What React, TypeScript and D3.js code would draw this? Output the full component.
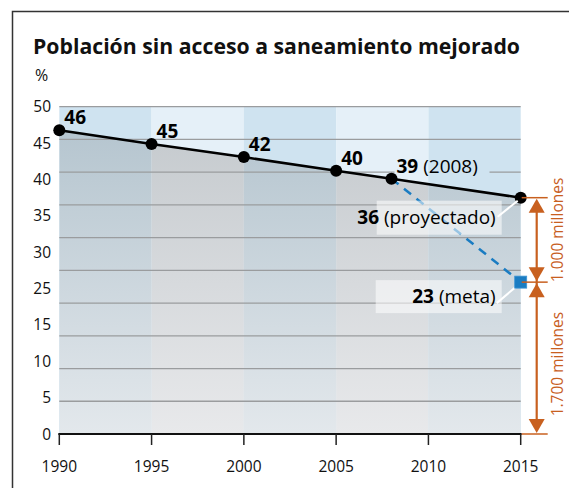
import React from 'react';
import * as d3 from 'd3';

// data
const years = [1990, 1995, 2000, 2005, 2008, 2015];
const poblacion = [46.4, 44.3, 42.3, 40.2, 39.0, 36.1];
const pointLabels = ['46', '45', '42', '40', '39'];
const metaYear = 2015;
const metaValue = 23.2;
const xTicks = [1990, 1995, 2000, 2005, 2010, 2015];
const yTickLabels = ['50', '45', '40', '35', '30', '25', '15', '10', '5', '0'];
const gridValues = [5, 10, 15, 20, 25, 30, 35, 40, 45, 50];
const bandStarts = [1990, 1995, 2000, 2005, 2010];

const W = 569;
const H = 488;
const FONT = '"Open Sans", "Noto Sans", sans-serif';
const ORANGE = '#c8601f';
const BLUE = '#1a7cc2';

const App = () => {
  const x = d3.scaleLinear().domain([1990, 2015]).range([59.3, 520.7]);
  const y = d3.scaleLinear().domain([0, 50]).range([434, 106.7]);
  const yLab = d3.scalePoint().domain(yTickLabels).range([y(50), y(0)]);

  const pts = years.map((yr, i) => ({ yr, v: poblacion[i] }));
  const line = d3.line<any>().x(d => x(d.yr)).y(d => y(d.v));
  const area = d3.area<any>().x(d => x(d.yr)).y0(y(0)).y1(d => y(d.v));

  const last = pts[pts.length - 1];
  const p2008 = pts[4];

  // boxes for the projected / goal annotations
  const boxR = x(2015) - 19;
  const projTop = y(last.v) + 3;
  const metaTop = y(metaValue) - 2;

  const oX = x(2015) + 16;
  const arrow = (yy: number, up: boolean) => {
    const h = 14;
    const w = 8;
    const base = up ? yy + h : yy - h;
    return `M${oX},${yy}L${oX - w},${base}L${oX + w},${base}Z`;
  };
  const yTop = y(last.v);
  const yMid = y(metaValue);
  const yBot = y(0);

  return (
    <svg width={W} height={H} style={{ position: 'absolute', left: 0, top: 0 }} fontFamily={FONT}>
      <defs>
        <linearGradient id="gDark" gradientUnits="userSpaceOnUse" x1={0} y1={y(47)} x2={0} y2={y(0)}>
          <stop offset="0%" stopColor="#b5c5cf" />
          <stop offset="100%" stopColor="#e3e8ec" />
        </linearGradient>
        <linearGradient id="gLight" gradientUnits="userSpaceOnUse" x1={0} y1={y(47)} x2={0} y2={y(0)}>
          <stop offset="0%" stopColor="#c5cace" />
          <stop offset="100%" stopColor="#e8e9eb" />
        </linearGradient>
        <clipPath id="areaClip">
          <path d={area(pts) || ''} />
        </clipPath>
        <clipPath id="lab2008">
          <rect x={x(2008) + 3} y={y(40) - 10} width={95} height={20} />
        </clipPath>
      </defs>

      <rect width={W} height={H} fill="#fff" />
      <path d={`M12.5,${H}V11.5H${W}`} fill="none" stroke="#333" strokeWidth={1.5} />

      <text x={33} y={54} fontSize={21} fontWeight={700} fill="#111" textLength={487} lengthAdjust="spacingAndGlyphs">
        Población sin acceso a saneamiento mejorado
      </text>
      <text x={35} y={81} fontSize={16} fill="#111">%</text>

      {/* background bands */}
      {bandStarts.map((b, i) => (
        <rect key={'b' + b} x={x(b)} y={y(50)} width={x(b + 5) - x(b)} height={y(0) - y(50)}
          fill={i % 2 === 0 ? '#cfe3f0' : '#e5f0f8'} />
      ))}
      <g clipPath="url(#areaClip)">
        {bandStarts.map((b, i) => (
          <rect key={'a' + b} x={x(b)} y={y(50)} width={x(b + 5) - x(b)} height={y(0) - y(50)}
            fill={i % 2 === 0 ? 'url(#gDark)' : 'url(#gLight)'} />
        ))}
      </g>

      {/* grid */}
      {gridValues.map(g => (
        <line key={'g' + g} x1={x(1990)} x2={x(2015)} y1={y(g)} y2={y(g)} stroke="#9a9c9e" strokeWidth={1.3} />
      ))}

      {/* hide grid behind the 2008 label */}
      <g clipPath="url(#lab2008)">
        {bandStarts.map((b, i) => (
          <rect key={'c' + b} x={x(b)} y={y(50)} width={x(b + 5) - x(b)} height={y(0) - y(50)}
            fill={i % 2 === 0 ? '#cfe3f0' : '#e5f0f8'} />
        ))}
      </g>

      {/* y labels */}
      {yTickLabels.map(t => (
        <text key={'y' + t} x={51} y={yLab(t)} dy="0.36em" textAnchor="end" fontSize={15.5} fill="#111">{t}</text>
      ))}

      {/* x axis */}
      <line x1={x(1990) - 1} x2={x(2015) + 1} y1={y(0)} y2={y(0)} stroke="#111" strokeWidth={2.2} />
      {xTicks.map(t => (
        <g key={'x' + t}>
          <line x1={x(t)} x2={x(t)} y1={y(0)} y2={y(0) + 11} stroke="#222" strokeWidth={1.5} />
          <text x={x(t)} y={y(0) + 38} textAnchor="middle" fontSize={15.5} fill="#111">{t}</text>
        </g>
      ))}

      {/* goal path */}
      <line x1={x(p2008.yr)} y1={y(p2008.v)} x2={x(metaYear)} y2={y(metaValue)}
        stroke={BLUE} strokeWidth={2.5} strokeDasharray="9,7" />

      {/* series */}
      <path d={line(pts) || ''} fill="none" stroke="#000" strokeWidth={2.5} />
      {pts.map(p => (
        <circle key={'p' + p.yr} cx={x(p.yr)} cy={y(p.v)} r={6} fill="#000" />
      ))}

      {pointLabels.map((l, i) => (
        <text key={'l' + i} x={x(years[i]) + 5} y={y(poblacion[i]) - 6} fontSize={19} fill="#000">
          <tspan fontWeight={700}>{l}</tspan>
          {years[i] === 2008 ? <tspan fontWeight={400}> (2008)</tspan> : null}
        </text>
      ))}

      {/* projected box */}
      <rect x={boxR - 125} y={projTop} width={125} height={34} fill="#fff" fillOpacity={0.55} />
      <line x1={boxR - 4} y1={projTop + 16} x2={x(2015) - 3} y2={y(last.v) + 3} stroke="#fff" strokeWidth={2} />
      <text x={boxR - 6} y={projTop + 23} textAnchor="end" fontSize={19} fill="#000">
        <tspan fontWeight={700}>36</tspan> (proyectado)
      </text>

      {/* goal box */}
      <rect x={boxR - 126} y={metaTop} width={126} height={33} fill="#fff" fillOpacity={0.55} />
      <line x1={boxR - 5} y1={metaTop + 23} x2={x(metaYear) - 4} y2={y(metaValue) + 4} stroke="#fff" strokeWidth={2} />
      <text x={boxR - 6} y={metaTop + 23} textAnchor="end" fontSize={19} fill="#000">
        <tspan fontWeight={700}>23</tspan> (meta)
      </text>
      <rect x={x(metaYear) - 6} y={y(metaValue) - 6} width={12} height={12} fill={BLUE} stroke="#3d95d4" strokeWidth={0.8} />

      {/* population annotation */}
      {[yTop, yMid, yBot].map((yy, i) => (
        <line key={'o' + i} x1={x(2015) + 1} x2={oX + 11} y1={yy} y2={yy} stroke={ORANGE} strokeWidth={1.5} />
      ))}
      <line x1={oX} x2={oX} y1={yTop + 4} y2={yBot - 4} stroke={ORANGE} strokeWidth={2.2} />
      <path d={arrow(yTop + 1, true)} fill={ORANGE} />
      <path d={arrow(yMid - 1, false)} fill={ORANGE} />
      <path d={arrow(yMid + 1, true)} fill={ORANGE} />
      <path d={arrow(yBot - 1, false)} fill={ORANGE} />
      <text transform={`translate(${oX + 26},${(yTop + yMid) / 2 - 10}) rotate(-90)`} textAnchor="middle" fontSize={15.5} fill={ORANGE}>
        1.000 millones
      </text>
      <text transform={`translate(${oX + 26},${(yMid + yBot) / 2 + 6}) rotate(-90)`} textAnchor="middle" fontSize={15.5} fill={ORANGE}>
        1.700 millones
      </text>
    </svg>
  );
};

export default App;
